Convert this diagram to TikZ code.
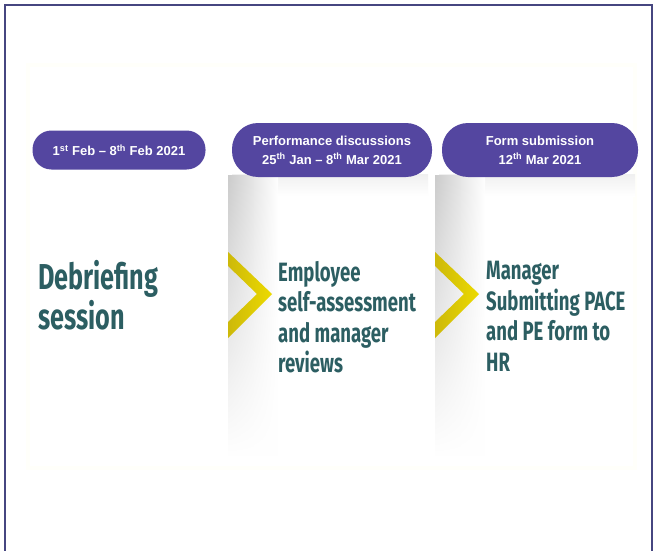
\documentclass[tikz,border=0pt]{standalone}
\usepackage{fontspec}
\setmainfont{Liberation Sans}
\newfontfamily\headfont[FakeStretch=0.7]{Fira Sans}
\usetikzlibrary{fadings}
\definecolor{pillpurple}{RGB}{84,70,160}
\definecolor{headteal}{RGB}{44,94,98}
\definecolor{chevyellow}{RGB}{236,218,0}
\definecolor{chevdark}{RGB}{205,185,10}
\definecolor{framecol}{RGB}{70,70,128}
\tikzset{
	datepill/.style={fill=pillpurple,text=white,
		font=\fontsize{13}{19}\selectfont\bfseries,align=center},
	stagetext/.style={anchor=north west,text=headteal,align=left,inner sep=0pt},
	chevron/.style={left color=chevdark,right color=chevyellow}
}
\begin{document}
\begin{tikzpicture}[x=1pt,y=-1pt]
	\useasboundingbox (0,0) rectangle (656,551);
	\fill[white] (0,0) rectangle (656,551);
	% frame and panel
	\draw[framecol,line width=1.5pt] (5,551) -- (5,5) -- (652,5) -- (652,551);
	\fill[yellow!2] (26,63) rectangle (637,470);
	\fill[white] (30,67) rectangle (633,466);
	% column shadows
	\foreach \cx in {228,435} {
		\shade[top color=black!6,bottom color=white]
			(\cx+4,174) rectangle ++(196,22);
		\shade[left color=black!20,right color=white,path fading=south]
			(\cx,176) rectangle ++(50,280);
	}
	% chevrons
	\foreach \cx in {228,435} {
		\shade[chevron] (\cx,252) -- (\cx+44,294) -- (\cx,338) -- (\cx,322)
			-- (\cx+29,294) -- (\cx,266) -- cycle;
	}
	% date pills
	\node[datepill,rounded corners=19pt,minimum width=173pt,minimum height=39pt] (pilla) at (119,150)
		{1\textsuperscript{st} Feb -- 8\textsuperscript{th} Feb 2021};
	\node[datepill,rounded corners=26pt,minimum width=200pt,minimum height=54pt] (pillb) at (332,150)
		{Performance discussions\\25\textsuperscript{th} Jan -- 8\textsuperscript{th} Mar 2021};
	\node[datepill,rounded corners=26pt,minimum width=196pt,minimum height=54pt] (pillc) at (540,150)
		{Form submission\\12\textsuperscript{th} Mar 2021};
	% stage texts
	\node[stagetext,font=\headfont\bfseries\fontsize{36}{40}\selectfont] (debrief) at (38,260)
		{Debriefing\\session};
	\node[stagetext,font=\headfont\bfseries\fontsize{26.5}{30.5}\selectfont] (selfassess) at (278,261)
		{Employee\\self-assessment\\and manager\\reviews};
	\node[stagetext,font=\headfont\bfseries\fontsize{26.5}{30.5}\selectfont] (submit) at (486,261)
		{Manager\\Submitting PACE\\and PE form to\\HR};
\end{tikzpicture}
\end{document}
